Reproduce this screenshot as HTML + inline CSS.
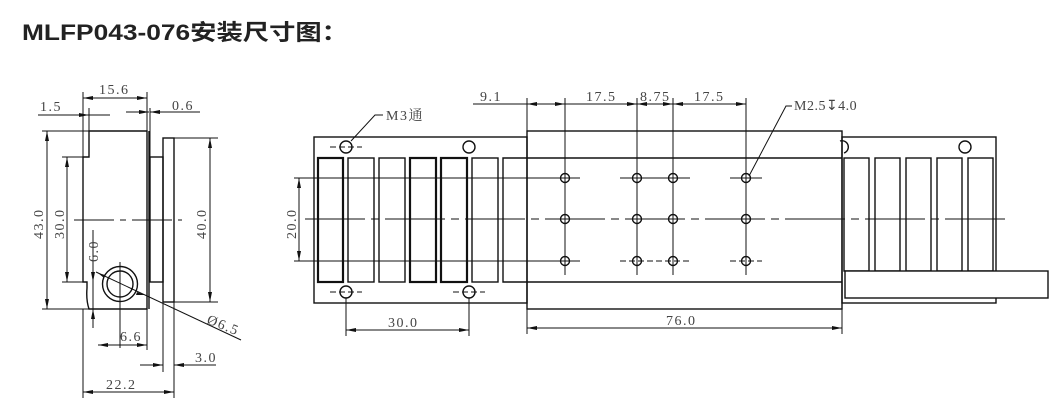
<!DOCTYPE html>
<html><head><meta charset="utf-8"><style>
html,body{margin:0;padding:0;background:#fff;}
svg{display:block;}
text{font-family:"Liberation Serif","Noto Serif CJK SC",serif;fill:#444;}
.t{font-family:"Liberation Sans","Noto Sans CJK SC",sans-serif;font-weight:bold;fill:#222;}
</style></head><body>
<svg width="1064" height="414" viewBox="0 0 1064 414" xmlns="http://www.w3.org/2000/svg">
<defs>
<marker id="a" markerWidth="10" markerHeight="6" refX="10" refY="3" orient="auto-start-reverse" markerUnits="userSpaceOnUse">
<path d="M0,1 L10,3 L0,5 Z" fill="#111"/></marker>
</defs>
<text class="t" x="22" y="40" font-size="22" textLength="326" lengthAdjust="spacingAndGlyphs">MLFP043-076安装尺寸图：</text>

<g stroke="#111" stroke-width="1.4" fill="none">
<path d="M89,131 H147 V309 H89 Q86,300 87,288 V282 H83 V157 H89 Z"/>
<line x1="149" y1="131" x2="149" y2="309"/>
<rect x="150" y="157" width="13" height="125"/>
<rect x="163" y="138" width="11" height="164"/>
<circle cx="120" cy="284" r="17.5"/>
<circle cx="120" cy="284" r="13"/>
<line x1="120" y1="262" x2="120" y2="348" stroke-width="1"/>
<line x1="74" y1="220" x2="182" y2="220" stroke-width="1" stroke-dasharray="40,6,6,6"/>
<g stroke-width="1">
<line x1="83" y1="92" x2="83" y2="157"/><line x1="147" y1="92" x2="147" y2="131"/>
<line x1="89" y1="108" x2="89" y2="131"/><line x1="150" y1="108" x2="150" y2="157"/>
<line x1="42" y1="131" x2="89" y2="131"/><line x1="42" y1="309" x2="89" y2="309"/>
<line x1="62" y1="157" x2="83" y2="157"/><line x1="62" y1="282" x2="83" y2="282"/>
<line x1="174" y1="138" x2="218" y2="138"/><line x1="174" y1="302" x2="218" y2="302"/>
<line x1="83" y1="309" x2="83" y2="398"/><line x1="174" y1="302" x2="174" y2="398"/>
<line x1="147" y1="309" x2="147" y2="350"/><line x1="163" y1="302" x2="163" y2="372"/>
<line x1="93" y1="230" x2="93" y2="328"/>
</g>
<g stroke-width="1">
<line x1="83" y1="98" x2="147" y2="98" marker-start="url(#a)" marker-end="url(#a)"/>
<line x1="38" y1="115" x2="89" y2="115" marker-end="url(#a)"/><line x1="110" y1="115" x2="89" y2="115"/>
<line x1="126" y1="112" x2="149" y2="112" marker-end="url(#a)"/><line x1="200" y1="112" x2="150" y2="112" marker-end="url(#a)"/>
<line x1="47" y1="131" x2="47" y2="309" marker-start="url(#a)" marker-end="url(#a)"/>
<line x1="67" y1="157" x2="67" y2="282" marker-start="url(#a)" marker-end="url(#a)"/>
<line x1="210" y1="138" x2="210" y2="302" marker-start="url(#a)" marker-end="url(#a)"/>
<line x1="93" y1="262" x2="93" y2="282" marker-end="url(#a)"/>
<line x1="93" y1="326" x2="93" y2="309" marker-end="url(#a)"/>
<line x1="98" y1="345" x2="147" y2="345" marker-start="url(#a)" marker-end="url(#a)"/>
<line x1="140" y1="365" x2="163" y2="365" marker-end="url(#a)"/><line x1="216" y1="365" x2="174" y2="365" marker-end="url(#a)"/>
<line x1="83" y1="392" x2="174" y2="392" marker-start="url(#a)" marker-end="url(#a)"/>
<line x1="96" y1="272" x2="241" y2="340"/>
</g>
<path d="M98,273 L105,275 L104,278 Z M137,292 L145,295 L136,295 Z" fill="#111" stroke="none"/>

<rect x="314" y="137" width="213" height="166"/>
<rect x="527" y="131" width="315" height="178"/>
<line x1="527" y1="158" x2="842" y2="158"/><line x1="527" y1="282" x2="842" y2="282"/>
<rect x="318" y="158" width="25" height="124" stroke-width="2.2"/>
<rect x="348" y="158" width="26" height="124"/>
<rect x="379" y="158" width="26" height="124"/>
<rect x="410" y="158" width="26" height="124" stroke-width="2.2"/>
<rect x="441" y="158" width="26" height="124" stroke-width="2.2"/>
<rect x="472" y="158" width="26" height="124"/>
<path d="M527,158 H503 V282 H527"/>
<rect x="842" y="137" width="154" height="166"/>
<rect x="844" y="158" width="25" height="113"/><rect x="875" y="158" width="25" height="113"/>
<rect x="906" y="158" width="25" height="113"/><rect x="937" y="158" width="25" height="113"/>
<rect x="968" y="158" width="25" height="113"/>
<rect x="845" y="271" width="203" height="27" fill="#fff"/>
<circle cx="346" cy="147" r="6"/><circle cx="469" cy="147" r="6"/>
<circle cx="346" cy="292" r="6"/><circle cx="469" cy="292" r="6"/>
<path d="M840,141 A6,6 0 0 1 844,153"/><circle cx="965" cy="147" r="6"/>
<g stroke-width="1">
<line x1="330" y1="147" x2="362" y2="147" stroke-dasharray="6,3"/><line x1="330" y1="292" x2="362" y2="292" stroke-dasharray="6,3"/>
<line x1="453" y1="292" x2="485" y2="292" stroke-dasharray="6,3"/>
<line x1="305" y1="219" x2="1005" y2="219" stroke-dasharray="60,6,8,6"/>
<line x1="294" y1="178" x2="580" y2="178"/><line x1="294" y1="261" x2="580" y2="261"/>
<line x1="299" y1="178" x2="299" y2="261" marker-start="url(#a)" marker-end="url(#a)"/>
</g>
<g stroke-width="1.4">
<circle cx="565" cy="178" r="4.5"/><circle cx="637" cy="178" r="4.5"/><circle cx="673" cy="178" r="4.5"/><circle cx="746" cy="178" r="4.5"/>
<circle cx="565" cy="219" r="4.5"/><circle cx="637" cy="219" r="4.5"/><circle cx="673" cy="219" r="4.5"/><circle cx="746" cy="219" r="4.5"/>
<circle cx="565" cy="261" r="4.5"/><circle cx="637" cy="261" r="4.5"/><circle cx="673" cy="261" r="4.5"/><circle cx="746" cy="261" r="4.5"/>
</g>
<g stroke-width="1">
<line x1="565" y1="98" x2="565" y2="275"/><line x1="637" y1="98" x2="637" y2="275"/>
<line x1="673" y1="98" x2="673" y2="275"/><line x1="746" y1="98" x2="746" y2="275"/>
<line x1="527" y1="98" x2="527" y2="131"/>
<line x1="620" y1="178" x2="690" y2="178"/><line x1="730" y1="178" x2="762" y2="178"/>
<line x1="620" y1="261" x2="690" y2="261" stroke-dasharray="6,3"/><line x1="730" y1="261" x2="762" y2="261" stroke-dasharray="6,3"/>
<line x1="473" y1="104" x2="527" y2="104"/>
<line x1="527" y1="104" x2="565" y2="104" marker-start="url(#a)" marker-end="url(#a)"/>
<line x1="565" y1="104" x2="637" y2="104" marker-end="url(#a)"/>
<line x1="637" y1="104" x2="673" y2="104" marker-start="url(#a)" marker-end="url(#a)"/>
<line x1="673" y1="104" x2="746" y2="104" marker-start="url(#a)" marker-end="url(#a)"/>
<line x1="346" y1="298" x2="346" y2="336"/><line x1="469" y1="298" x2="469" y2="336"/>
<line x1="346" y1="330" x2="469" y2="330" marker-start="url(#a)" marker-end="url(#a)"/>
<line x1="527" y1="309" x2="527" y2="334"/><line x1="842" y1="303" x2="842" y2="334"/>
<line x1="527" y1="328" x2="842" y2="328" marker-start="url(#a)" marker-end="url(#a)"/>
<polyline points="383,115 375,115 351,141"/>
<polyline points="792,106 786,106 749,176"/>
</g>
</g>

<g font-size="14" letter-spacing="1.5">
<text x="99" y="94">15.6</text>
<text x="40" y="111">1.5</text>
<text x="172" y="110">0.6</text>
<text x="120" y="341">6.6</text>
<text x="195" y="362">3.0</text>
<text x="106" y="389">22.2</text>
<text transform="translate(43,239) rotate(-90)">43.0</text>
<text transform="translate(64,239) rotate(-90)">30.0</text>
<text transform="translate(206,239) rotate(-90)">40.0</text>
<text transform="translate(98,262) rotate(-90)">6.0</text>
<text transform="translate(206,323) rotate(22)">Ø6.5</text>
<text transform="translate(296,239) rotate(-90)">20.0</text>
<text x="480" y="101">9.1</text>
<text x="586" y="101">17.5</text>
<text x="640" y="101">8.75</text>
<text x="694" y="101">17.5</text>
<text x="386" y="120">M3通</text>
<text x="794" y="110" letter-spacing="0.5">M2.5↧4.0</text>
<text x="388" y="327">30.0</text>
<text x="666" y="325">76.0</text>
</g>
</svg>
</body></html>
